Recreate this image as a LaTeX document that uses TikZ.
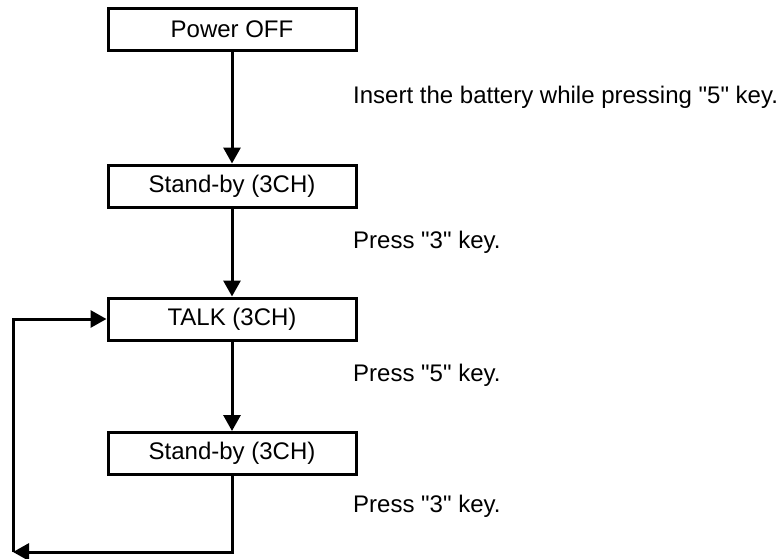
\documentclass[tikz,border=0pt]{standalone}
\usepackage{fontspec}
\setmainfont{Liberation Sans}[Ligatures=TeXOff]
\usetikzlibrary{positioning, arrows.meta}

\begin{document}
\begin{tikzpicture}[
    x=1pt, y=-1pt,
    mode/.style={rectangle, draw=black, line width=3pt, minimum width=248pt, minimum height=42pt, inner sep=0pt, font=\fontsize{24}{28}\selectfont},
    action/.style={anchor=west, inner sep=0pt, font=\fontsize{24}{28}\selectfont},
    arrow/.style={-{Triangle[length=16pt,width=17pt]}, line width=3pt, black}
  ]
    \useasboundingbox (0,0) rectangle (781,559);

    \node[mode] (off) at (232,29.5) {Power OFF};
    \node[mode] (standby1) at (232,186) {Stand-by (3CH)};
    \node[mode] (talk) at (232,319) {TALK (3CH)};
    \node[mode] (standby2) at (232,453.5) {Stand-by (3CH)};

    \node[action] (insert) at (353,97) {Insert the battery while pressing "5" key.};
    \node[action] (press3a) at (353,242) {Press "3" key.};
    \node[action] (press5) at (353,375) {Press "5" key.};
    \node[action] (press3b) at (353,506) {Press "3" key.};

    \coordinate (turn) at (232,552);
    \coordinate (corner) at (13,552);

    \draw[arrow] (off) -- (standby1);
    \draw[arrow] (standby1) -- (talk);
    \draw[arrow] (talk) -- (standby2);
    \draw[arrow] (standby2) -- (turn) -- (corner);
    \draw[arrow] (corner) |- (talk);
  \end{tikzpicture}
\end{document}
